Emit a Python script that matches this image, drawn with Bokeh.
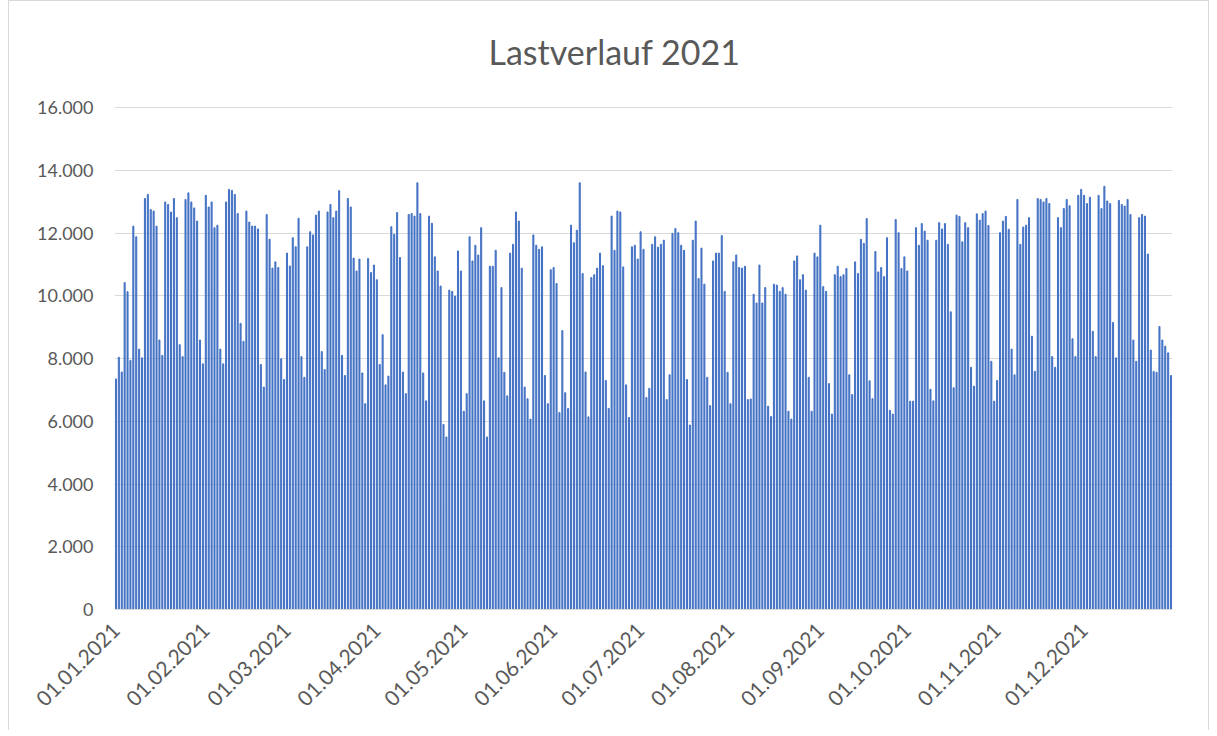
import pandas as pd
from bokeh.plotting import figure
from bokeh.models import Range1d, FixedTicker, DatetimeTickFormatter, ColumnDataSource, Label
from bokeh.embed import file_html
from bokeh.resources import INLINE

# ---- data (daily load values) ----
jan = [7350, 8040, 7570, 10420, 10130, 7940, 12220, 11880, 8300, 8020, 13100, 13230, 12750, 12700, 12220, 8590,
       8100, 12990, 12910, 12670, 13100, 12490, 8440, 8060, 13070, 13280, 12990, 12800, 12380, 8590, 7830]
feb = [13200, 12830, 12990, 12170, 12250, 8300, 7830, 12990, 13390, 13360, 13230, 12620, 9120, 8550, 12700, 12350,
       12220, 12220, 12130, 7810, 7090, 12590, 11800, 10880, 11080, 10900, 7990, 7330]
mar = [11360, 10950, 11850, 11560, 12470, 8060, 7400, 11560, 12040, 11940, 12570, 12700, 8220, 7650, 12670, 12910,
       12490, 12700, 13350, 8100, 7460, 13100, 12830, 11200, 10790, 11170, 7540, 6560, 11190, 10740, 10980]
apr = [10510, 7810, 8760, 7160, 7440, 12200, 11960, 12650, 11220, 7570, 6880, 12590, 12620, 12540, 13600, 12620,
       7540, 6650, 12540, 12310, 11240, 10790, 10310, 5900, 5500, 10180, 10140, 9990, 11430, 10790]
may = [6320, 6880, 11880, 11110, 11610, 11300, 12170, 6650, 5500, 10940, 10940, 11450, 8020, 10260, 7560, 6810,
       11360, 11640, 12670, 12380, 10880, 7090, 6720, 6070, 11940, 11610, 11480, 11560, 7460, 6560, 10830]
jun = [10900, 10390, 6280, 8890, 6910, 6410, 12250, 11690, 12090, 13600, 10710, 7570, 6140, 10580, 10670, 10880,
       11360, 10960, 7300, 6410, 12540, 11450, 12700, 12670, 10920, 7160, 6120, 11560, 11610, 11170]
jul = [12040, 11480, 6760, 7050, 11640, 11880, 11550, 11640, 11770, 6690, 7480, 11990, 12140, 12010, 11610, 11450,
       7330, 5880, 11770, 12380, 10550, 11520, 10370, 7400, 6500, 11110, 11360, 11360, 11920, 10140, 7560]
aug = [6560, 11080, 11300, 10900, 10880, 10940, 6690, 6710, 10050, 9770, 10980, 9770, 10260, 6480, 6150, 10370,
       10340, 10140, 10260, 10050, 6320, 6070, 11110, 11270, 10510, 10670, 10180, 7400, 6320, 11360, 11240]
sep = [12250, 10290, 10140, 7200, 6230, 10670, 10940, 10610, 10670, 10870, 7480, 6850, 11080, 10710, 11800, 11670,
       12460, 7290, 6720, 11410, 10760, 10900, 10610, 11850, 6350, 6230, 12430, 12010, 10870, 11240]
oct_ = [10790, 6640, 6640, 12170, 11610, 12300, 12060, 11770, 7020, 6650, 11770, 12330, 12130, 12300, 11640, 9490,
        7070, 12570, 12530, 11720, 12330, 12170, 7720, 7120, 12610, 12410, 12620, 12700, 12240, 7910, 6640]
nov = [7300, 12010, 12380, 12530, 12120, 8300, 7480, 13070, 11640, 12190, 12250, 12490, 8710, 7590, 13100, 13070,
       12990, 13100, 12940, 8060, 7720, 12490, 12170, 12780, 13070, 12870, 8630, 8060, 13200, 13390]
dec = [13200, 12940, 13140, 8870, 8060, 13200, 12780, 13490, 13020, 12940, 9150, 8020, 13040, 12910, 12860, 13070,
       12590, 8590, 7910, 12490, 12590, 12540, 11330, 8270, 7590, 7560, 9020, 8590, 8390, 8180, 7460]

y_ticks = [0, 2000, 4000, 6000, 8000, 10000, 12000, 14000, 16000]
y_tick_labels = ["0", "2.000", "4.000", "6.000", "8.000", "10.000", "12.000", "14.000", "16.000"]
month_starts = ["2021-01-01", "2021-02-01", "2021-03-01", "2021-04-01", "2021-05-01", "2021-06-01",
                "2021-07-01", "2021-08-01", "2021-09-01", "2021-10-01", "2021-11-01", "2021-12-01"]
title_text = "Lastverlauf 2021"

# ---- build ----
load = jan + feb + mar + apr + may + jun + jul + aug + sep + oct_ + nov + dec
dates = pd.date_range("2021-01-01", "2021-12-31", freq="D")
src = ColumnDataSource(dict(x=dates, y=load))

DAY = 86400000
FONT = "Lato"
TXT = "#595959"
GRID = "#d9d9d9"

# layout geometry (pixels)
W, H = 1201, 730
TOP, BOTTOM, LEFT, RIGHT = 10, 122, 105, 38
frame_h = H - TOP - BOTTOM
axis_span_px = 502                      # height of the 0..16000 band
y_end = y_ticks[-1] * frame_h / axis_span_px   # frame extends above the top gridline to host the title

start = pd.Timestamp("2021-01-01") - pd.Timedelta(hours=12)
end = pd.Timestamp("2021-12-31") + pd.Timedelta(hours=12)

p = figure(width=W, height=H, output_backend="svg", toolbar_location=None,
           x_axis_type="datetime",
           x_range=Range1d(start, end), y_range=Range1d(0, y_end),
           min_border_left=LEFT, min_border_right=RIGHT, min_border_top=TOP, min_border_bottom=BOTTOM)
p.margin = (0, 0, 0, 8)
p.styles = {"border-left": "1px solid #d9d9d9", "border-right": "1px solid #d9d9d9",
            "border-top": "1px solid #d9d9d9"}
p.title = None

# chart title (screen units relative to the plot frame)
p.add_layout(Label(x=500, y=558, x_units="screen", y_units="screen", text=title_text,
                   text_align="center", text_baseline="alphabetic", text_font=FONT,
                   text_font_size="34px", text_color=TXT))

p.vbar(x="x", top="y", width=0.36 * DAY, source=src, color="#4472C4")

p.outline_line_color = None
p.background_fill_color = "white"
p.border_fill_color = "white"

# y axis
p.yaxis.ticker = FixedTicker(ticks=y_ticks)
p.yaxis.major_label_overrides = {v: s for v, s in zip(y_ticks, y_tick_labels)}
p.yaxis.axis_line_color = None
p.yaxis.major_tick_line_color = None
p.yaxis.minor_tick_line_color = None
p.yaxis.major_tick_out = 0
p.yaxis.major_tick_in = 0
p.yaxis.major_label_standoff = 21
p.yaxis.major_label_text_font = FONT
p.yaxis.major_label_text_font_size = "18px"
p.yaxis.major_label_text_color = TXT
p.ygrid.ticker = FixedTicker(ticks=y_ticks)
p.ygrid.grid_line_color = GRID
p.ygrid.grid_line_width = 1

# x axis
xt = [pd.Timestamp(s).value // 10**6 for s in month_starts]
p.xaxis.ticker = FixedTicker(ticks=xt)
fmt = "%d.%m.%Y"
p.xaxis.formatter = DatetimeTickFormatter(milliseconds=fmt, seconds=fmt, minsec=fmt, minutes=fmt, hourmin=fmt,
                                          hours=fmt, days=fmt, months=fmt, years=fmt)
p.xaxis.major_label_orientation = 0.785398
p.xaxis.axis_line_color = GRID
p.xaxis.major_tick_line_color = None
p.xaxis.minor_tick_line_color = None
p.xaxis.major_tick_out = 0
p.xaxis.major_tick_in = 0
p.xaxis.major_label_standoff = 17
p.xaxis.major_label_text_font = FONT
p.xaxis.major_label_text_font_size = "21px"
p.xaxis.major_label_text_color = TXT
p.xgrid.grid_line_color = None

open("out.html", "w").write(file_html(p, INLINE))
